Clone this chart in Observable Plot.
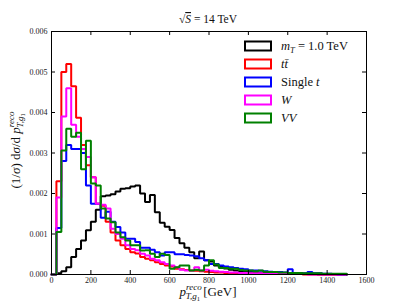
<!DOCTYPE html>
<html><head><meta charset="utf-8">
<script src="https://cdn.jsdelivr.net/npm/d3@7"></script>
<script src="https://cdn.jsdelivr.net/npm/@observablehq/plot@0.6"></script>
<style>
body{margin:0;background:#fff}
svg{font-family:"Liberation Serif","DejaVu Serif",serif}
</style>
</head><body><div id="chart"></div>
<script>
// 25 GeV bins from 0 to 1500 GeV
const binWidth = 25;
const xTicks = [0, 200, 400, 600, 800, 1000, 1200, 1400, 1600];
const yTicks = [0, 0.001, 0.002, 0.003, 0.004, 0.005, 0.006];

const signalMT = [0, 0.00003, 0.00008, 0.00018, 0.00043, 0.00063, 0.00084, 0.00109, 0.0013, 0.0016,
 0.00193, 0.00195, 0.00198, 0.00205, 0.00212, 0.00213, 0.00217, 0.0022, 0.002, 0.00179,
 0.00196, 0.00154, 0.00128, 0.00118, 0.0011, 0.0009, 0.00077, 0.00066, 0.00055, 0.0004,
 0.00057, 0.00035, 0.00032, 0.00022, 0.00019, 0.00015, 0.00012, 0.0001, 0.00008, 0.00007,
 0.00006, 0.00005, 0.00004, 0.00004, 0.00003, 0.00003, 0.00002, 0.00002, 0.00002, 0.00001,
 0.00001, 0.00001, 0.00001, 0.00001, 0, 0, 0, 0, 0, 0];

const ttbar = [0, 0.0023, 0.0050, 0.0052, 0.00465, 0.00387, 0.0032, 0.0027, 0.0024, 0.00175,
 0.0017, 0.0013, 0.00104, 0.00084, 0.00072, 0.00063, 0.00055, 0.00052, 0.00043, 0.00039,
 0.00035, 0.0003, 0.00026, 0.00022, 0.0002, 0.00014, 0.00013, 0.00011, 0.0001, 0.00009,
 0.00008, 0.00007, 0.00006, 0.00005, 0.00005, 0.00004, 0.00004, 0.00003, 0.00003, 0.00003,
 0.00002, 0.00002, 0.00002, 0.00002, 0.00002, 0.00001, 0.00001, 0.00001, 0.00001, 0.00001,
 0.00001, 0, 0, 0, 0, 0, 0, 0, 0, 0];

const singleTop = [0, 0.00115, 0.0028, 0.0032, 0.0031, 0.0031, 0.0030, 0.0022, 0.00175, 0.00175,
 0.0014, 0.00155, 0.0013, 0.00117, 0.00104, 0.00088, 0.00088, 0.0008, 0.00066, 0.00066,
 0.00061, 0.00055, 0.00047, 0.00055, 0.00055, 0.0005, 0.0005, 0.00048, 0.00047, 0.00045,
 0.0004, 0.00035, 0.00026, 0.00026, 0.00022, 0.0002, 0.00018, 0.00016, 0.00014, 0.00013,
 0.0001, 0.0001, 0.00009, 0.00008, 0.00007, 0.00006, 0.00006, 0.00005, 0.00013, 0.00004,
 0.00004, 0.00003, 0.00006, 0.00003, 0.00003, 0.00002, 0.00002, 0.00001, 0, 0];

const wJets = [0, 0.0019, 0.0039, 0.0046, 0.0037, 0.0034, 0.0031, 0.0029, 0.0024, 0.00175,
 0.00172, 0.00163, 0.00113, 0.001, 0.00088, 0.00072, 0.00063, 0.0006, 0.00051, 0.00047,
 0.00039, 0.00035, 0.0003, 0.00026, 0.00022, 0.00018, 0.00012, 0.0001, 0.0001, 0.00018,
 0.0001, 0.00012, 0.00009, 0.00008, 0.00007, 0.00006, 0.00005, 0.00005, 0.00004, 0.00004,
 0.00003, 0.00003, 0.00003, 0.00002, 0.00002, 0.00002, 0.00002, 0.00001, 0.00001, 0.00001,
 0.00001, 0.00001, 0, 0, 0, 0, 0, 0, 0, 0];

const diboson = [0, 0.00105, 0.00306, 0.0036, 0.0034, 0.0035, 0.0026, 0.0033, 0.00225, 0.0022,
 0.00163, 0.00138, 0.00129, 0.00104, 0.00092, 0.00084, 0.00072, 0.00072, 0.00059, 0.0006,
 0.00051, 0.00043, 0.00051, 0.00048, 0.00014, 0.00018, 0.00022, 0.00022, 0.0001, 0.00012,
 0.0001, 0.00022, 0.00035, 0.00025, 0.00016, 0.00016, 0.00014, 0.00014, 0.00011, 0.0001,
 0.0001, 0.00008, 0.0001, 0.00007, 0.00006, 0.00006, 0.00005, 0.00005, 0.00004, 0.00004,
 0.00004, 0.00003, 0.00003, 0.00003, 0.00003, 0.00002, 0.00002, 0.00002, 0.00002, 0.00002];

const seriesNames = ["mT", "ttbar", "single", "W", "VV"];
const seriesColors = ["#000000", "#ff0000", "#0000ff", "#ff00ff", "#008000"];
const seriesValues = [signalMT, ttbar, singleTop, wJets, diboson];

function stepPoints(values) {
  const pts = [{x: 0, y: 0}];
  values.forEach((v, i) => pts.push({x: i * binWidth, y: v}));
  pts.push({x: values.length * binWidth, y: 0});
  return pts;
}

const W = 407, H = 305, mL = 51, mR = 41, mT = 31, mB = 31;
const fw = W - mL - mR, fh = H - mT - mB;

const plot = Plot.plot({
  width: W, height: H,
  marginLeft: mL, marginRight: mR, marginTop: mT, marginBottom: mB,
  style: {fontFamily: "Liberation Serif, DejaVu Serif, serif", fontSize: "8px", color: "#222", background: "#fff"},
  x: {domain: [0, 1600]},
  y: {domain: [0, 0.006]},
  marks: [
    ...seriesValues.map((vals, k) => Plot.line(stepPoints(vals), {
      x: "x", y: "y", curve: "step-after", stroke: seriesColors[k], strokeWidth: 2, strokeLinejoin: "miter"
    })),
    Plot.frame({stroke: "#000", strokeWidth: 1}),
    Plot.tickX(xTicks, {x: d => d, insetTop: fh - 4, stroke: "#000"}),
    Plot.tickX(xTicks, {x: d => d, insetBottom: fh - 4, stroke: "#000"}),
    Plot.tickY(yTicks, {y: d => d, insetRight: fw - 4, stroke: "#000"}),
    Plot.tickY(yTicks, {y: d => d, insetLeft: fw - 4, stroke: "#000"}),
    Plot.axisX({ticks: xTicks, tickSize: 0, tickPadding: 3, label: null, tickFormat: d => String(d)}),
    Plot.axisY({ticks: yTicks, tickSize: 0, tickPadding: 4, label: null, tickFormat: d3.format(".3f")})
  ]
});

document.getElementById("chart").appendChild(plot);
const svg = d3.select(plot);
const font = "Liberation Serif, DejaVu Serif, serif";

// Title
const t = svg.append("text").attr("x", 208).attr("y", 23).attr("text-anchor", "middle")
  .attr("font-family", font).attr("font-size", 11.5).attr("fill", "#111");
t.append("tspan").text("√");
t.append("tspan").attr("font-style", "italic").attr("text-decoration", "overline").text("S");
t.append("tspan").text(" = 14 TeV");

// Legend
const legendLabels = [
  [["m", true, 0, null], ["T", true, 3, 8.5], [" = 1.0 TeV", false, -3, null]],
  [["tt̄", true, 0, null]],
  [["Single ", false, 0, null], ["t", true, 0, null]],
  [["W", true, 0, null]],
  [["VV", true, 0, null]]
];
legendLabels.forEach((parts, i) => {
  const cy = 46 + i * 18;
  svg.append("rect").attr("x", 245).attr("y", cy - 4.5).attr("width", 26).attr("height", 9)
    .attr("fill", "none").attr("stroke", seriesColors[i]).attr("stroke-width", 2);
  const tx = svg.append("text").attr("x", 281).attr("y", cy + 4).attr("text-anchor", "start")
    .attr("font-family", font).attr("font-size", 12.5).attr("fill", "#111");
  parts.forEach(([s, it, dy, fs]) => {
    const sp = tx.append("tspan").text(s);
    if (it) sp.attr("font-style", "italic");
    if (dy) sp.attr("dy", dy);
    if (fs) sp.attr("font-size", fs);
  });
});

// X label
const xl = svg.append("text").attr("x", 208).attr("y", 296).attr("text-anchor", "middle")
  .attr("font-family", font).attr("font-size", 13).attr("fill", "#111");
xl.append("tspan").attr("font-style", "italic").text("p");
xl.append("tspan").attr("font-style", "italic").attr("font-size", 9).attr("dy", -6).text("reco");
xl.append("tspan").attr("font-style", "italic").attr("font-size", 9).attr("dx", -16).attr("dy", 9).text("T,g");
xl.append("tspan").attr("font-size", 6.5).attr("dy", 2).text("1");
xl.append("tspan").attr("dy", -5).text(" [GeV]");

// Y label
const yl = svg.append("text").attr("transform", "translate(20,150) rotate(-90)").attr("text-anchor", "middle")
  .attr("font-family", font).attr("font-size", 13).attr("fill", "#111");
yl.append("tspan").text("(1/");
yl.append("tspan").attr("font-style", "italic").text("σ");
yl.append("tspan").text(") d");
yl.append("tspan").attr("font-style", "italic").text("σ");
yl.append("tspan").text("/d ");
yl.append("tspan").attr("font-style", "italic").text("p");
yl.append("tspan").attr("font-style", "italic").attr("font-size", 9).attr("dy", -6).text("reco");
yl.append("tspan").attr("font-style", "italic").attr("font-size", 9).attr("dx", -16).attr("dy", 9).text("T,g");
yl.append("tspan").attr("font-size", 6.5).attr("dy", 2).text("1");
</script>
</body></html>
